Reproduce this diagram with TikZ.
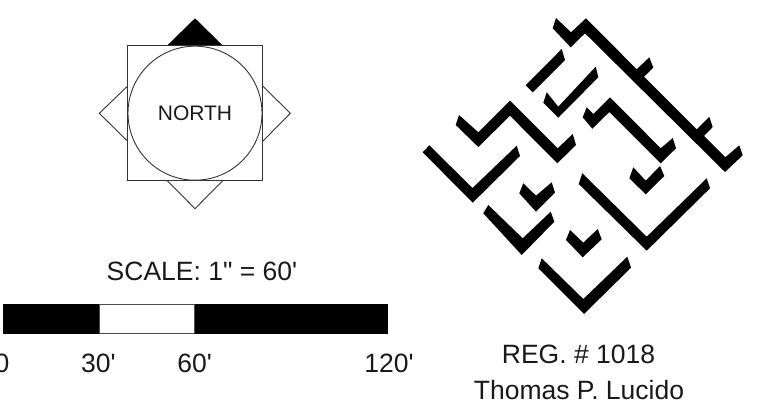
\documentclass[tikz,border=0pt]{standalone}
\usepackage{fontspec}
\newfontfamily\arialish{Liberation Sans}
\tikzset{
  wall/.style={fill=black,draw=none},
  outline/.style={draw=black!80,line width=0.9pt,fill=white},
  label/.style={font=\arialish\fontsize{26.5}{30}\selectfont,inner sep=0pt,anchor=base,text=black!90},
  biglabel/.style={font=\arialish\fontsize{21}{24}\selectfont,inner sep=0pt,anchor=base,text=black!90}
}
\begin{document}
\begin{tikzpicture}[x=1pt,y=-1pt]
\clip (0,0) rectangle (762,411);
\useasboundingbox (0,0) rectangle (762,411);
% compass
\fill[black] (195,18.3) -- (223.3,46) -- (166.7,46) -- cycle;
\draw[outline] (127.7,86) -- (99.3,113.3) -- (127.7,141.3);
\draw[outline] (262.7,86) -- (290.3,113.3) -- (262.7,141.3);
\draw[outline] (167.3,180.7) -- (195,208.7) -- (222.7,180.7);
\draw[outline] (127.7,45.7) rectangle (262.7,180.7);
\draw[outline] (195,113.2) circle [radius=67];
\node[biglabel] (north) at (195,121) {NORTH};
% scale
\node[label] (scale) at (202,280.7) {SCALE: 1" = 60'};
\fill[black] (2.7,304) rectangle (388,333.7);
\draw[fill=white,draw=black!70,line width=0.8pt] (99.5,304.5) rectangle (194.7,333.5);
\node[label] (l0) at (2,372.5) {0};
\node[label] (l30) at (98.5,372.5) {30'};
\node[label] (l60) at (194.7,372.5) {60'};
\node[label] (l120) at (389,372.5) {120'};
\node[label] (reg) at (578.5,363.3) {REG. \# 1018};
\node[label] (name) at (579,399) {Thomas P. Lucido};
% walls
\fill[wall] (556,18) -- (552.7,28.3) -- (570.7,47.3) -- (585,33.3) -- (725,172) -- (742.7,155.3) -- (739.3,145.3) -- (725.3,157.3) -- (704,136) -- (712.7,127) -- (709.3,116.7) -- (696.7,129.3) -- (644,76.7) -- (653.3,67.7) -- (649.3,57.3) -- (636.7,69.3) -- (586,18.3) -- (571,32.3) -- cycle;
\fill[wall] (561.7,49) -- (565,60) -- (532.7,92.3) -- (525.7,85.3) -- cycle;
\fill[wall] (546.7,92.3) -- (543.3,102.7) -- (558.3,117.7) -- (598.3,77.3) -- (595.7,66.7) -- (558.3,106.7) -- cycle;
\fill[wall] (459,115) -- (455.7,125) -- (478.3,147) -- (510,115.7) -- (557.3,163.3) -- (576,145) -- (572.7,134) -- (557.7,148.3) -- (510,100.7) -- (478.3,132.3) -- cycle;
\fill[wall] (586.7,107.3) -- (582.7,117.3) -- (592.3,128.7) -- (609.3,112) -- (660.7,163.3) -- (676,148.3) -- (672.7,138) -- (660.7,148.3) -- (610,97.3) -- (593.3,114) -- cycle;
\fill[wall] (429.3,145.3) -- (422.7,152.3) -- (472.7,202.7) -- (520,156) -- (516.7,145.7) -- (472.5,188) -- cycle;
\fill[wall] (523.3,183.3) -- (519.3,193.3) -- (536,211.7) -- (555,192.7) -- (551.7,182.3) -- (536,195.7) -- cycle;
\fill[wall] (488.3,205) -- (483.3,213.3) -- (521.7,255) -- (554.3,221.7) -- (550.7,211.7) -- (522.7,238.3) -- cycle;
\fill[wall] (570,230) -- (566,240) -- (582.7,257.3) -- (601.7,239.3) -- (597.7,229) -- (583.3,242.7) -- cycle;
\fill[wall] (541.7,258.3) -- (538.3,268.3) -- (584,314) -- (631,267.7) -- (627.3,256.7) -- (583.3,299) -- cycle;
\fill[wall] (582.3,173.3) -- (578.7,184) -- (646.7,250.7) -- (710,188.3) -- (706.7,178.3) -- (646.7,236.7) -- cycle;
\fill[wall] (633.3,167.3) -- (629.3,178.3) -- (645.7,194.3) -- (664.3,176) -- (660,166) -- (645.7,180.7) -- cycle;
\end{tikzpicture}
\end{document}
